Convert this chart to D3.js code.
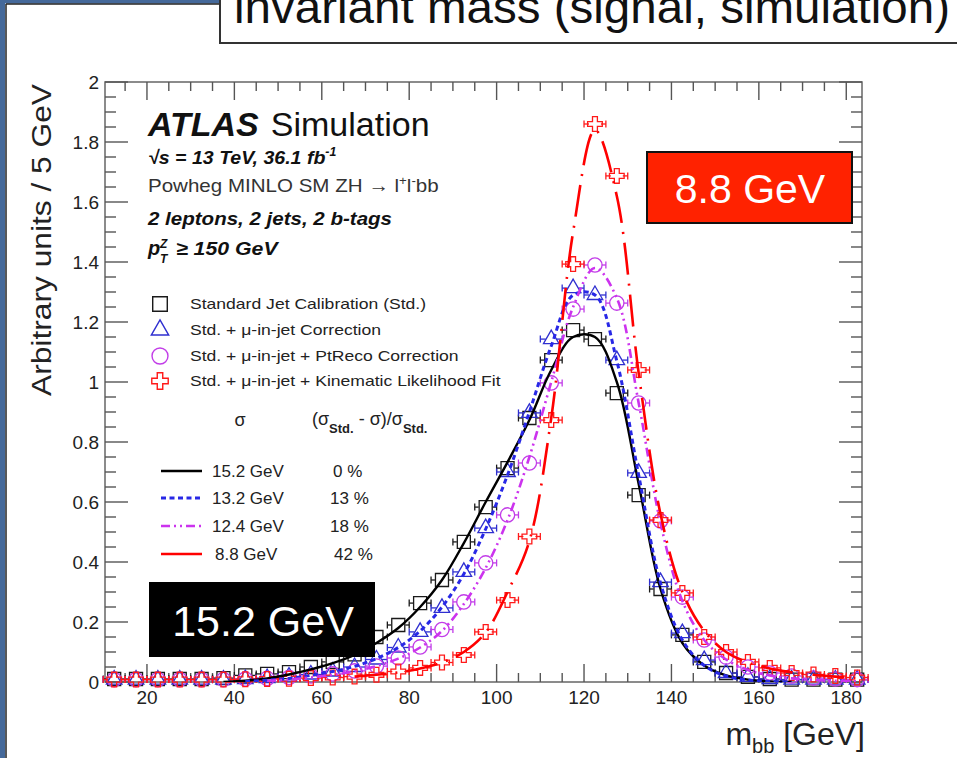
<!DOCTYPE html>
<html><head><meta charset="utf-8">
<script src="https://cdn.jsdelivr.net/npm/d3@7"></script>
<style>
body{margin:0;background:#fff;}
svg{display:block;font-family:"Liberation Sans",Arial,Helvetica,sans-serif;}
</style>
</head><body>
<svg id="c" width="957" height="758"></svg>
<script>
// ---------------- data ----------------
const titleText = "invariant mass (signal, simulation)";
const binCenters = [12.5,17.5,22.5,27.5,32.5,37.5,42.5,47.5,52.5,57.5,62.5,67.5,72.5,77.5,82.5,87.5,92.5,97.5,102.5,107.5,112.5,117.5,122.5,127.5,132.5,137.5,142.5,147.5,152.5,157.5,162.5,167.5,172.5,177.5,182.5];
const binHalfWidth = 2.5;

const stdValues = [0.010,0.010,0.010,0.010,0.010,0.013,0.022,0.027,0.033,0.050,0.067,0.092,0.150,0.190,0.263,0.340,0.467,0.583,0.713,0.880,1.073,1.173,1.143,0.963,0.623,0.310,0.157,0.067,0.030,0.017,0.010,0.008,0.008,0.008,0.008];
const muValues  = [0.008,0.008,0.008,0.008,0.008,0.008,0.010,0.013,0.018,0.025,0.035,0.050,0.075,0.115,0.167,0.247,0.367,0.513,0.700,0.897,1.143,1.313,1.290,1.073,0.697,0.333,0.163,0.073,0.030,0.017,0.010,0.008,0.008,0.008,0.008];
const ptValues  = [0.008,0.008,0.008,0.008,0.008,0.008,0.010,0.012,0.015,0.020,0.027,0.037,0.053,0.080,0.117,0.175,0.267,0.397,0.557,0.730,0.997,1.243,1.390,1.263,0.930,0.537,0.283,0.140,0.083,0.050,0.030,0.020,0.013,0.010,0.008];
const klfValues = [0.008,0.008,0.008,0.008,0.008,0.008,0.009,0.010,0.011,0.013,0.015,0.018,0.024,0.035,0.047,0.065,0.090,0.167,0.273,0.485,0.873,1.393,1.860,1.687,1.040,0.540,0.297,0.150,0.100,0.067,0.047,0.030,0.025,0.020,0.015];

// fitted curves at the bin centres (null = outside the fit range)
const stdFit = [null,null,null,null,null,0.000,0.004,0.012,0.025,0.042,0.063,0.090,0.130,0.180,0.250,0.340,0.463,0.600,0.733,0.873,1.040,1.150,1.150,1.000,0.660,0.310,0.130,0.055,0.022,0.008,0.002,0.000,null,null,null];
const muFit  = [null,null,null,null,null,null,0.002,0.006,0.012,0.022,0.035,0.052,0.078,0.115,0.170,0.250,0.360,0.510,0.690,0.900,1.120,1.290,1.290,1.070,0.690,0.330,0.140,0.055,0.020,0.007,0.002,0.000,null,null,null];
const ptFit  = [null,null,null,null,null,null,null,0.004,0.008,0.015,0.024,0.036,0.053,0.078,0.115,0.170,0.260,0.380,0.540,0.750,1.000,1.250,1.380,1.280,0.930,0.530,0.270,0.140,0.075,0.040,0.022,0.012,0.007,0.004,0.002];
const klfFit = [null,null,null,null,null,null,null,null,null,null,null,0.018,0.024,0.032,0.045,0.065,0.100,0.165,0.300,0.470,0.880,1.500,1.840,1.620,1.030,0.560,0.300,0.170,0.100,0.065,0.045,0.032,0.024,0.018,0.014];

const seriesNames = ["Standard Jet Calibration (Std.)","Std. + \u03bc-in-jet Correction","Std. + \u03bc-in-jet + PtReco Correction","Std. + \u03bc-in-jet + Kinematic Likelihood Fit"];
const sigmaLabels = ["15.2 GeV","13.2 GeV","12.4 GeV","8.8 GeV"];
const improvementLabels = ["0 %","13 %","18 %","42 %"];
const xTickValues = [20,40,60,80,100,120,140,160,180];
const yTickValues = [0,0.2,0.4,0.6,0.8,1,1.2,1.4,1.6,1.8,2];
const yTickLabels = ["0","0.2","0.4","0.6","0.8","1","1.2","1.4","1.6","1.8","2"];
const highlightRed = "8.8 GeV";
const highlightBlack = "15.2 GeV";

// ---------------- styles ----------------
const colors = ["#1a1a1a","#2f2fd0","#c23de8","#ff1a1a"];
const lineColors = ["#000000","#2828e6","#cc33ee","#ff0000"];
const dashes = [null,"5,3.5","9,4,2,4,2,4","32,9,2,9"];
const lineWidths = [2.4,3,2.6,2.6];
const symbols = [d3.symbolSquare,d3.symbolTriangle,d3.symbolCircle,d3.symbolCross];
const symSizes = [170,105,160,120];

const svg = d3.select("#c");
const L=105, R=862, T=82, B=682;
const x = d3.scaleLinear().domain([10.4,183.6]).range([L,R]);
const y = d3.scaleLinear().domain([0,2]).range([B,T]);

// stretch text horizontally (reference glyphs are wider than Liberation Sans)
function widen(sel, f){
  sel.each(function(){ const w=this.getComputedTextLength(); d3.select(this).attr("textLength",w*f).attr("lengthAdjust","spacingAndGlyphs"); });
}

// ---------------- slide frame ----------------
svg.append("rect").attr("x",0).attr("y",0).attr("width",5).attr("height",758).attr("fill","#45699a");
svg.append("rect").attr("x",0).attr("y",0).attr("width",220).attr("height",3.5).attr("fill","#45699a");
svg.append("line").attr("x1",6).attr("x2",6).attr("y1",4).attr("y2",758).attr("stroke","#222").attr("stroke-width",1.5);
svg.append("line").attr("x1",6).attr("x2",220).attr("y1",4).attr("y2",4).attr("stroke","#222").attr("stroke-width",1.5);
svg.append("rect").attr("x",220).attr("y",-10).attr("width",760).attr("height",53).attr("fill","#fff").attr("stroke","#333").attr("stroke-width",2);
svg.append("text").attr("x",234).attr("y",23).attr("font-size",46).attr("fill","#111")
  .attr("textLength",716).attr("lengthAdjust","spacingAndGlyphs").text(titleText);

// ---------------- axes frame & ticks ----------------
const g = svg.append("g");
g.append("rect").attr("x",L).attr("y",T).attr("width",R-L).attr("height",B-T).attr("fill","none").attr("stroke","#666").attr("stroke-width",1.5);
const xMinor = d3.range(15,185,5);
const yMinor = d3.range(0,2.0001,0.05);
const axisStroke = "#555";
xMinor.forEach(v=>{
  const major = xTickValues.includes(v);
  const len = major?18:9;
  g.append("line").attr("x1",x(v)).attr("x2",x(v)).attr("y1",B).attr("y2",B-len).attr("stroke",axisStroke).attr("stroke-width",1.4);
  g.append("line").attr("x1",x(v)).attr("x2",x(v)).attr("y1",T).attr("y2",T+len).attr("stroke",axisStroke).attr("stroke-width",1.4);
});
yMinor.forEach(v=>{
  const major = Math.abs(v*5-Math.round(v*5))<1e-6;
  const len = major?23:11;
  g.append("line").attr("x1",L).attr("x2",L+len).attr("y1",y(v)).attr("y2",y(v)).attr("stroke",axisStroke).attr("stroke-width",1.4);
  g.append("line").attr("x1",R).attr("x2",R-len).attr("y1",y(v)).attr("y2",y(v)).attr("stroke",axisStroke).attr("stroke-width",1.4);
});
xTickValues.forEach(v=>{
  g.append("text").attr("x",x(v)).attr("y",B+22).attr("text-anchor","middle").attr("font-size",19).attr("fill","#222").text(v);
});
yTickValues.forEach((v,i)=>{
  g.append("text").attr("x",L-6).attr("y",y(v)+7).attr("text-anchor","end").attr("font-size",19).attr("fill","#222").text(yTickLabels[i]);
});
svg.append("text").attr("transform","translate(51,396) rotate(-90)").attr("font-size",27).attr("fill","#222")
  .attr("textLength",312).attr("lengthAdjust","spacingAndGlyphs").text("Arbitrary units / 5 GeV");
const xl = svg.append("text").attr("x",865).attr("y",745).attr("text-anchor","end").attr("font-size",32).attr("fill","#222");
xl.append("tspan").text("m");
xl.append("tspan").attr("font-size",20).attr("dy",8).text("bb");
xl.append("tspan").attr("dy",-8).text(" [GeV]");

// ---------------- data markers ----------------
const allValues = [stdValues,muValues,ptValues,klfValues];
const allFits = [stdFit,muFit,ptFit,klfFit];
const dataG = svg.append("g");
allValues.forEach((vals,si)=>{
  const sg = dataG.append("g");
  const pts = binCenters.map((m,i)=>({m:m,v:vals[i]}));
  const half = Math.sqrt(symSizes[si])/2 + 0.5;
  pts.forEach(p=>{
    const cx = x(p.m), cy = y(p.v);
    const xl0 = x(p.m-binHalfWidth), xr0 = x(p.m+binHalfWidth);
    sg.append("line").attr("x1",xl0).attr("x2",cx-half).attr("y1",cy).attr("y2",cy).attr("stroke",colors[si]).attr("stroke-width",1.3);
    sg.append("line").attr("x1",cx+half).attr("x2",xr0).attr("y1",cy).attr("y2",cy).attr("stroke",colors[si]).attr("stroke-width",1.3);
    sg.append("line").attr("x1",xl0).attr("x2",xl0).attr("y1",cy-3.5).attr("y2",cy+3.5).attr("stroke",colors[si]).attr("stroke-width",1.3);
    sg.append("line").attr("x1",xr0).attr("x2",xr0).attr("y1",cy-3.5).attr("y2",cy+3.5).attr("stroke",colors[si]).attr("stroke-width",1.3);
    sg.append("path").attr("d",d3.symbol().type(symbols[si]).size(symSizes[si])())
      .attr("transform",`translate(${cx},${cy})`).attr("fill","none").attr("stroke",colors[si]).attr("stroke-width",1.3);
  });
});

// ---------------- fit curves ----------------
svg.append("clipPath").attr("id","plotclip").append("rect").attr("x",L).attr("y",T).attr("width",R-L).attr("height",B-T);
const line = d3.line().x(d=>x(d.m)).y(d=>y(d.v)).curve(d3.curveCatmullRom.alpha(0.5));
allFits.forEach((fit,si)=>{
  const pts = binCenters.map((m,i)=>({m:m,v:fit[i]})).filter(d=>d.v!==null);
  svg.append("path").attr("d",line(pts)).attr("clip-path","url(#plotclip)")
    .attr("fill","none").attr("stroke",lineColors[si]).attr("stroke-width",lineWidths[si])
    .attr("stroke-dasharray",dashes[si]);
});

// ---------------- ATLAS label ----------------
const t1 = svg.append("text").attr("x",148).attr("y",136).attr("font-size",34).attr("fill","#111");
t1.append("tspan").attr("font-weight","bold").attr("font-style","italic").text("ATLAS");
t1.append("tspan").attr("dx",12).text("Simulation");
const t2 = svg.append("text").attr("x",148).attr("y",164).attr("font-size",19).attr("font-weight","bold").attr("font-style","italic").attr("fill","#111");
t2.append("tspan").text("\u221as = 13 TeV, 36.1 fb");
t2.append("tspan").attr("font-size",12).attr("dy",-8).text("-1");
t2.call(widen,1.03);
const t3 = svg.append("text").attr("x",148).attr("y",192).attr("font-size",18.5).attr("fill","#333");
t3.append("tspan").text("Powheg MINLO SM ZH \u2192 l");
t3.append("tspan").attr("font-size",12).attr("dy",-7).text("+");
t3.append("tspan").attr("dy",7).text("l");
t3.append("tspan").attr("font-size",12).attr("dy",-7).text("-");
t3.append("tspan").attr("dy",7).text("bb");
t3.call(widen,1.11);
svg.append("text").attr("x",148).attr("y",225).attr("font-size",19).attr("font-weight","bold").attr("font-style","italic").attr("fill","#111")
  .text("2 leptons, 2 jets, 2 b-tags").call(widen,1.08);
const t5 = svg.append("g").attr("font-weight","bold").attr("font-style","italic").attr("fill","#111");
t5.append("text").attr("x",148).attr("y",255).attr("font-size",20).text("p");
t5.append("text").attr("x",160).attr("y",248).attr("font-size",12).text("Z");
t5.append("text").attr("x",160).attr("y",263).attr("font-size",12).text("T");
t5.append("text").attr("x",176).attr("y",255).attr("font-size",19).text("\u2265 150 GeV").call(widen,1.12);

// ---------------- legend ----------------
const legY = [304,330,356,381];
seriesNames.forEach((name,si)=>{
  svg.append("path").attr("d",d3.symbol().type(symbols[si]).size(symSizes[si]*1.25)())
    .attr("transform",`translate(${160},${legY[si]})`).attr("fill","none").attr("stroke",colors[si]).attr("stroke-width",1.4);
  svg.append("text").attr("x",190).attr("y",legY[si]+5).attr("font-size",15).attr("fill","#222").text(name).call(widen,1.17);
});
svg.append("text").attr("x",240).attr("y",426).attr("text-anchor","middle").attr("font-size",18).attr("fill","#222").text("\u03c3");
svg.append("text").attr("x",312).attr("y",425).attr("font-size",18).attr("fill","#222")
  .html('(\u03c3<tspan font-size="13" font-weight="bold" dy="8">Std.</tspan><tspan dy="-8"> - \u03c3)/\u03c3</tspan><tspan font-size="13" font-weight="bold" dy="8">Std.</tspan>');
const lineLegY = [471,498,526,554];
sigmaLabels.forEach((lab,si)=>{
  svg.append("line").attr("x1",161).attr("x2",202).attr("y1",lineLegY[si]).attr("y2",lineLegY[si])
    .attr("stroke",lineColors[si]).attr("stroke-width",lineWidths[si]).attr("stroke-dasharray",dashes[si]===dashes[3]?null:dashes[si]);
  svg.append("text").attr("x",si===3?215:212).attr("y",lineLegY[si]+6).attr("font-size",17).attr("fill","#222").text(lab);
  svg.append("text").attr("x",si===0?333:(si===3?334:330)).attr("y",lineLegY[si]+6).attr("font-size",17).attr("fill","#222").text(improvementLabels[si]);
});

// ---------------- highlight boxes ----------------
svg.append("rect").attr("x",647).attr("y",152).attr("width",205).attr("height",71).attr("fill","#ff2200").attr("stroke","#111").attr("stroke-width",2);
svg.append("text").attr("x",750).attr("y",203).attr("text-anchor","middle").attr("font-size",41).attr("fill","#fff").text(highlightRed);
svg.append("rect").attr("x",149).attr("y",582).attr("width",226).attr("height",75).attr("fill","#000");
svg.append("text").attr("x",263).attr("y",636).attr("text-anchor","middle").attr("font-size",43).attr("fill","#fff").text(highlightBlack);
</script>
</body></html>
